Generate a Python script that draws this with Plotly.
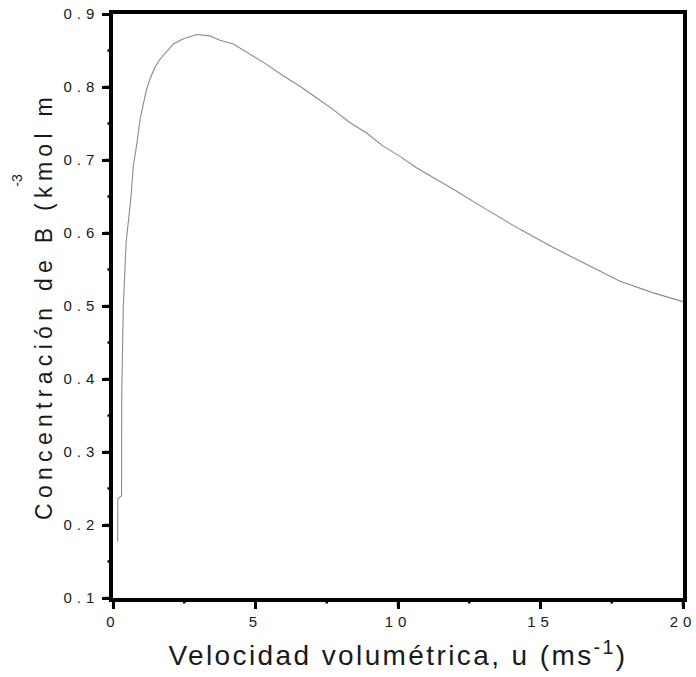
import plotly.graph_objects as go

# Concentration of B versus superficial velocity u
u = [0.165, 0.17, 0.30, 0.305, 0.36, 0.46, 0.63, 0.71, 0.85, 0.95, 1.06, 1.18,
     1.30, 1.47, 1.65, 1.88, 2.12, 2.47, 2.94, 3.40, 3.75, 4.22, 4.81, 5.39,
     5.98, 6.56, 7.15, 7.73, 8.32, 8.90, 9.48, 10.07, 10.66, 11.24, 11.94,
     13.11, 14.28, 15.45, 16.62, 17.79, 18.96, 20.0]
conc_b = [0.177, 0.236, 0.240, 0.372, 0.498, 0.587, 0.649, 0.691, 0.726, 0.756,
          0.776, 0.797, 0.811, 0.827, 0.838, 0.849, 0.859, 0.866, 0.872, 0.870,
          0.864, 0.859, 0.845, 0.831, 0.815, 0.801, 0.785, 0.769, 0.751, 0.737,
          0.719, 0.705, 0.689, 0.676, 0.660, 0.632, 0.605, 0.580, 0.557, 0.534,
          0.518, 0.506]

x_ticks = [0, 5, 10, 15, 20]
x_minor_ticks = [2.5, 7.5, 12.5, 17.5]
y_ticks = [0.1, 0.2, 0.3, 0.4, 0.5, 0.6, 0.7, 0.8, 0.9]
y_tick_labels = ["0.1", "0.2", "0.3", "0.4", "0.5", "0.6", "0.7", "0.8", "0.9"]
y_minor_ticks = [0.15, 0.25, 0.35, 0.45, 0.55, 0.65, 0.75, 0.85]

x_range = [0, 20]
y_range = [0.1, 0.9]

ink = "#1a1a1a"
font_family = "Liberation Sans, Arial, sans-serif"
MAJOR_LEN, MINOR_LEN, TICK_W = 7, 4, 2.5

fig = go.Figure()
fig.add_trace(go.Scatter(
    x=u, y=conc_b, mode="lines",
    line=dict(color="#8a8a8a", width=1.1),
    showlegend=False, hoverinfo="skip",
))

main = dict(
    showgrid=False, zeroline=False,
    showline=True, linecolor="black", linewidth=3.5, mirror=True,
    ticks="outside", ticklen=MAJOR_LEN, tickwidth=TICK_W, tickcolor="black",
    tickfont=dict(family=font_family, size=15, color=ink),
)

fig.update_layout(
    xaxis=dict(
        range=x_range, tickvals=x_ticks,
        title=dict(text="Velocidad volumétrica, u (ms<sup>-1</sup>)",
                   font=dict(family=font_family, size=28, color=ink), standoff=18),
        **main,
    ),
    yaxis=dict(
        range=y_range, tickvals=y_ticks, ticktext=y_tick_labels,
        title=dict(text="Concentración de B (kmol m",
                   font=dict(family=font_family, size=23, color=ink), standoff=20),
        **main,
    ),
)

# tick marks drawn as pixel-sized shapes hanging off the bottom and left axes
tick_line = dict(color="black", width=TICK_W)
for vals, length in ((x_ticks, MAJOR_LEN), (x_minor_ticks, MINOR_LEN)):
    for v in vals:
        fig.add_shape(type="line", xref="x", yref="paper",
                      x0=v, x1=v, ysizemode="pixel", yanchor=0,
                      y0=-1.5, y1=-1.5 - length, line=tick_line, layer="above")
for vals, length in ((y_ticks, MAJOR_LEN), (y_minor_ticks, MINOR_LEN)):
    for v in vals:
        fig.add_shape(type="line", xref="paper", yref="y",
                      y0=v, y1=v, xsizemode="pixel", xanchor=0,
                      x0=-1.5, x1=-1.5 - length, line=tick_line, layer="above")

# superscript of the concentration unit
fig.add_annotation(
    text="-3", xref="paper", yref="paper", x=-0.168, y=0.715,
    xanchor="center", yanchor="middle", textangle=-90, showarrow=False,
    font=dict(family=font_family, size=14, color=ink),
)

fig.update_layout(
    width=696, height=677,
    margin=dict(l=113, r=13, t=14, b=79, autoexpand=False),
    paper_bgcolor="white", plot_bgcolor="white",
)

# widen letter spacing of the axis texts
spacing_js = """
var gd = document.getElementById('{plot_id}');
function spread(sel, px) {
  gd.querySelectorAll(sel).forEach(function (t) { t.style.letterSpacing = px; });
}
spread('.xtick text', '5px');
spread('.ytick text', '5px');
spread('.xtitle', '2.4px');
spread('.ytitle', '5.3px');
"""

fig.write_html("out.html", post_script=spacing_js)
